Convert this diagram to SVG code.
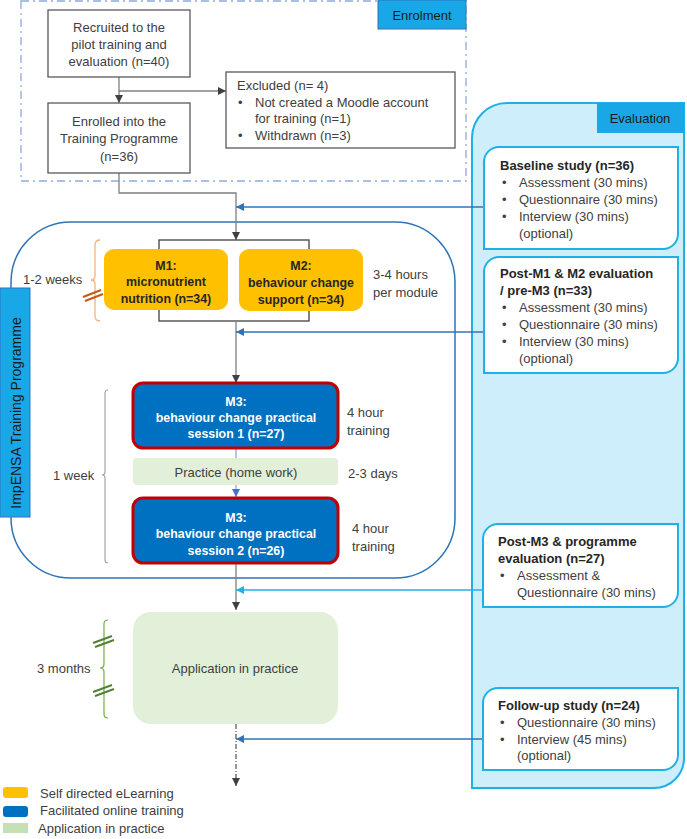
<svg xmlns="http://www.w3.org/2000/svg" width="687" height="839" viewBox="0 0 687 839">
<style>
text{font-family:"Liberation Sans",Arial,sans-serif;font-size:13px;fill:#404040}
.c{text-anchor:middle}
.b{font-weight:bold;fill:#262626}
.w{font-weight:bold;fill:#ffffff;font-size:12.4px}
.o{font-weight:bold;fill:#262626;font-size:12.4px}
.box{fill:#ffffff;stroke:#595959;stroke-width:1.3}
.eb{fill:#ffffff;stroke:#1fb0e8;stroke-width:2}
.gl{fill:none;stroke:#7f7f7f;stroke-width:1.3}
.bl{fill:none;stroke:#2e75b6;stroke-width:1.3}
.m3{fill:#0070c0;stroke:#c00000;stroke-width:3}
.gr{fill:#e2efd9}
</style>
<defs>
<marker id="ag" viewBox="0 0 10 10" refX="10" refY="5" markerWidth="8" markerHeight="8" markerUnits="userSpaceOnUse" orient="auto"><path d="M0,0 L10,5 L0,10 z" fill="#404040"/></marker>
<marker id="ab" viewBox="0 0 10 10" refX="10" refY="5" markerWidth="8" markerHeight="8" markerUnits="userSpaceOnUse" orient="auto"><path d="M0,0 L10,5 L0,10 z" fill="#2e75b6"/></marker>
<marker id="alb" viewBox="0 0 10 10" refX="10" refY="5" markerWidth="8" markerHeight="8" markerUnits="userSpaceOnUse" orient="auto"><path d="M0,0 L10,5 L0,10 z" fill="#1fb0e8"/></marker>
<marker id="am" viewBox="0 0 10 10" refX="10" refY="5" markerWidth="8" markerHeight="8" markerUnits="userSpaceOnUse" orient="auto"><path d="M0,0 L10,5 L0,10 z" fill="#4472c4"/></marker>
</defs>

<!-- Enrolment panel -->
<g id="enrolment">
<rect x="21" y="1" width="445" height="180" fill="none" stroke="#8faadc" stroke-width="1.3" stroke-dasharray="8,4,2,4"/>
<rect x="378" y="0" width="88" height="29" fill="#1aa7e8" stroke="#2e75b6" stroke-width="1"/>
<text x="422" y="20" class="c" style="fill:#1a1a1a">Enrolment</text>
</g>

<!-- Evaluation panel -->
<g id="evaluation">
<path d="M472,138 A35,35 0 0 1 507,103 H684 V758 A30,30 0 0 1 654,788 H472 Z" fill="#cdeefa" stroke="#1fb0e8" stroke-width="2"/>
<rect x="597" y="103" width="87" height="30" fill="#1aa7e8"/>
<text x="640" y="123" class="c" style="fill:#1a1a1a">Evaluation</text>
</g>

<!-- Programme container -->
<g id="programme">
<rect x="11" y="222" width="444" height="356" rx="60" fill="none" stroke="#2e75b6" stroke-width="1.5"/>
<rect x="0" y="288" width="30" height="229" fill="#1aa7e8" stroke="#2e75b6" stroke-width="1"/>
<text transform="translate(21,413) rotate(-90)" class="c" style="fill:#1a1a1a;font-size:14px">ImpENSA Training Programme</text>
</g>

<!-- connectors -->
<g id="connectors">
<line x1="119" y1="77" x2="119" y2="103" class="gl" marker-end="url(#ag)"/>
<line x1="119" y1="91" x2="226" y2="91" class="gl" marker-end="url(#ag)"/>
<polyline points="119,173 119,193 236,193 236,240" class="gl" marker-end="url(#ag)"/>
<rect x="159" y="240" width="150" height="81" fill="none" stroke="#404040" stroke-width="1.3"/>
<line x1="236" y1="321" x2="236" y2="383" class="gl" marker-end="url(#ag)"/>
<line x1="236" y1="448" x2="236" y2="497" stroke="#8faadc" stroke-width="1.3" marker-end="url(#am)"/>
<line x1="236" y1="563" x2="236" y2="610" class="gl" marker-end="url(#ag)"/>
<line x1="236" y1="724" x2="236" y2="786" stroke="#404040" stroke-width="1.1" stroke-dasharray="5,2,1,2" marker-end="url(#ag)"/>
<line x1="484" y1="207" x2="236" y2="207" class="bl" marker-end="url(#ab)"/>
<line x1="484" y1="332" x2="236" y2="332" class="bl" marker-end="url(#ab)"/>
<line x1="483" y1="590" x2="236" y2="590" stroke="#1fb0e8" stroke-width="1.3" marker-end="url(#alb)"/>
<line x1="483" y1="739" x2="236" y2="739" class="bl" marker-end="url(#ab)"/>
</g>

<g id="recruited">
<rect x="48" y="10" width="142" height="67" class="box"/>
<text x="119" y="32" class="c">Recruited to the</text>
<text x="119" y="49" class="c">pilot training and</text>
<text x="119" y="66" class="c">evaluation (n=40)</text>
</g>
<g id="enrolled">
<rect x="48" y="103" width="142" height="70" class="box"/>
<text x="119" y="126" class="c">Enrolled into the</text>
<text x="119" y="143" class="c">Training Programme</text>
<text x="119" y="161" class="c">(n=36)</text>
</g>
<g id="excluded">
<rect x="226" y="72" width="229" height="76" class="box"/>
<text x="237" y="90">Excluded (n= 4)</text>
<text x="238" y="107">•</text><text x="255" y="107">Not created a Moodle account</text>
<text x="255" y="123">for training (n=1)</text>
<text x="238" y="140">•</text><text x="255" y="140">Withdrawn (n=3)</text>
</g>

<g id="baseline">
<path d="M484,162 A15,15 0 0 1 499,147 H678 V234 A15,15 0 0 1 663,249 H484 Z" class="eb"/>
<text x="500" y="170" class="b">Baseline study (n=36)</text>
<text x="502" y="187">•</text><text x="519" y="187">Assessment (30 mins)</text>
<text x="502" y="204">•</text><text x="519" y="204">Questionnaire (30 mins)</text>
<text x="502" y="221">•</text><text x="519" y="221">Interview (30 mins)</text>
<text x="519" y="238">(optional)</text>
</g>
<g id="postm1">
<path d="M484,272 A15,15 0 0 1 499,257 H678 V358 A15,15 0 0 1 663,373 H484 Z" class="eb"/>
<text x="500" y="278" class="b">Post-M1 &amp; M2 evaluation</text>
<text x="500" y="295" class="b">/ pre-M3 (n=33)</text>
<text x="502" y="312">•</text><text x="519" y="312">Assessment (30 mins)</text>
<text x="502" y="329">•</text><text x="519" y="329">Questionnaire (30 mins)</text>
<text x="502" y="346">•</text><text x="519" y="346">Interview (30 mins)</text>
<text x="519" y="363">(optional)</text>
</g>
<g id="postm3">
<path d="M483,539 A15,15 0 0 1 498,524 H678 V592 A15,15 0 0 1 663,607 H483 Z" class="eb"/>
<text x="498" y="546" class="b">Post-M3 &amp; programme</text>
<text x="498" y="563" class="b">evaluation (n=27)</text>
<text x="500" y="580">•</text><text x="517" y="580">Assessment &amp;</text>
<text x="517" y="597">Questionnaire (30 mins)</text>
</g>
<g id="followup">
<path d="M483,703 A15,15 0 0 1 498,688 H678 V755 A15,15 0 0 1 663,770 H483 Z" class="eb"/>
<text x="498" y="710" class="b">Follow-up study (n=24)</text>
<text x="500" y="727">•</text><text x="517" y="727">Questionnaire (30 mins)</text>
<text x="500" y="744">•</text><text x="517" y="744">Interview (45 mins)</text>
<text x="517" y="760">(optional)</text>
</g>

<g id="m1">
<rect x="104" y="249" width="124" height="61" rx="10" fill="#ffc000"/>
<text x="166" y="270" class="c o">M1:</text>
<text x="166" y="286" class="c o">micronutrient</text>
<text x="166" y="303" class="c o">nutrition (n=34)</text>
</g>
<g id="m2">
<rect x="239" y="249" width="124" height="62" rx="10" fill="#ffc000"/>
<text x="301" y="270" class="c o">M2:</text>
<text x="301" y="287" class="c o">behaviour change</text>
<text x="301" y="304" class="c o">support (n=34)</text>
</g>
<g id="m1m2-notes">
<text x="373" y="279">3-4 hours</text>
<text x="373" y="297">per module</text>
<text x="23" y="284">1-2 weeks</text>
<path d="M100,240 Q95,240 95,245 V276 Q95,280 91,280 Q95,280 95,284 V316 Q95,321 100,321" fill="none" stroke="#f4b183" stroke-width="1.3"/>
<path d="M83,297 L101,290 M85,301 L103,294" stroke="#c55a11" stroke-width="2"/>
</g>

<g id="m3s1">
<rect x="133" y="383" width="205" height="65" rx="10" class="m3"/>
<text x="236" y="406" class="c w">M3:</text>
<text x="236" y="422" class="c w">behaviour change practical</text>
<text x="236" y="438" class="c w">session 1 (n=27)</text>
<text x="347" y="417">4 hour</text>
<text x="347" y="435">training</text>
</g>
<g id="practice">
<rect x="133" y="458" width="205" height="27" rx="4" class="gr"/>
<text x="236" y="477" class="c">Practice (home work)</text>
<text x="348" y="478">2-3 days</text>
</g>
<g id="m3s2">
<rect x="133" y="498" width="205" height="65" rx="10" class="m3"/>
<text x="236" y="522" class="c w">M3:</text>
<text x="236" y="538" class="c w">behaviour change practical</text>
<text x="236" y="555" class="c w">session 2 (n=26)</text>
<text x="352" y="533">4 hour</text>
<text x="352" y="551">training</text>
</g>
<g id="week">
<text x="53" y="480">1 week</text>
<path d="M108,390 Q105,390 105,393 V472 Q105,475 102,475 Q105,475 105,478 V560 Q105,563 108,563" fill="none" stroke="#a6a6a6" stroke-width="1.2"/>
</g>

<g id="application">
<rect x="133" y="612" width="205" height="112" rx="18" class="gr"/>
<text x="235" y="673" class="c">Application in practice</text>
<text x="37" y="673">3 months</text>
<path d="M108,620 Q104,620 104,624 V664 Q104,668 100,668 Q104,668 104,672 V714 Q104,718 108,718" fill="none" stroke="#70ad47" stroke-width="1.2"/>
<path d="M93,643 L112,636 M95,647 L114,640 M93,692 L112,685 M95,696 L114,689" stroke="#548235" stroke-width="2"/>
</g>

<g id="legend">
<rect x="3" y="787" width="25" height="11" rx="3" fill="#ffc000"/>
<rect x="3" y="806" width="25" height="11" rx="3" fill="#0070c0"/>
<rect x="3" y="823" width="25" height="10" fill="#c5e0b4"/>
<text x="40" y="798">Self directed eLearning</text>
<text x="40" y="815">Facilitated online training</text>
<text x="38" y="833">Application in practice</text>
</g>
</svg>
